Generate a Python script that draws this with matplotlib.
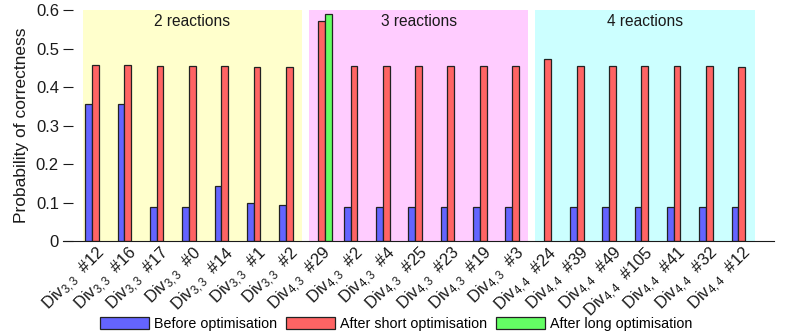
import numpy as np
import matplotlib
matplotlib.use("Agg")
import matplotlib.pyplot as plt
from matplotlib.patches import Patch

plt.rcParams['font.family'] = ['Liberation Sans', 'DejaVu Sans']
plt.rcParams['mathtext.fontset'] = 'custom'
plt.rcParams['mathtext.rm'] = 'Liberation Sans'
plt.rcParams['mathtext.it'] = 'Liberation Sans'

# ---- data ----
subscripts = ["3,3"] * 7 + ["4,3"] * 7 + ["4,4"] * 7
ids = ["#12", "#16", "#17", "#0", "#14", "#1", "#2",
       "#29", "#2", "#4", "#25", "#23", "#19", "#3",
       "#24", "#39", "#49", "#105", "#41", "#32", "#12"]
before = [0.357, 0.357, 0.089, 0.089, 0.142, 0.098, 0.094,
          np.nan, 0.089, 0.089, 0.089, 0.089, 0.089, 0.089,
          np.nan, 0.089, 0.089, 0.089, 0.089, 0.089, 0.089]
short_opt = [0.458, 0.456, 0.455, 0.454, 0.454, 0.452, 0.452,
             0.572, 0.455, 0.455, 0.455, 0.455, 0.455, 0.455,
             0.472, 0.455, 0.455, 0.455, 0.455, 0.455, 0.453]
long_opt = [np.nan] * 7 + [0.589] + [np.nan] * 13
groups = ["2 reactions", "3 reactions", "4 reactions"]
group_sizes = [7, 7, 7]
group_colors = ["#FFFFCC", "#FFCCFF", "#CCFFFF"]
series_names = ["Before optimisation", "After short optimisation", "After long optimisation"]
series_colors = ["#6464FF", "#FF6464", "#64FF64"]

labels = [f"Div$_{{{s}}}$  {i}" for s, i in zip(subscripts, ids)]
x = np.arange(len(labels))

fig = plt.figure(figsize=(7.89, 3.33), dpi=100)
ax = fig.add_axes([0.080, 0.276, 0.901, 0.694])

# group background spans
start = 0
for g, n, c in zip(groups, group_sizes, group_colors):
    x0, x1 = start - 0.4, start + n - 1 + 0.4
    ax.axvspan(x0, x1, ymin=0, ymax=1, color=c, lw=0, zorder=0)
    ax.text((x0 + x1) / 2, 0.570, g, ha='center', va='center', fontsize=11.2, color='#1a1a1a')
    start += n

w = 0.21
for vals, off, col in zip([before, short_opt, long_opt], [-w, 0, w], series_colors):
    ax.bar(x + off, vals, width=w, color=col, edgecolor='#222222', linewidth=0.9, zorder=2)

ax.set_xlim(-1, 21)
ax.set_ylim(0, 0.6)
ax.set_yticks([0, 0.1, 0.2, 0.3, 0.4, 0.5, 0.6])
ax.set_yticklabels(["0", "0.1", "0.2", "0.3", "0.4", "0.5", "0.6"])
ax.set_xticks(x)
ax.set_xticklabels(labels, rotation=45, ha='right', rotation_mode='anchor', fontsize=12)
ax.tick_params(axis='x', length=0, pad=2, colors='#1a1a1a')
ax.tick_params(axis='y', direction='in', length=7, labelsize=12, colors='#1a1a1a', pad=3)
for s in ['top', 'right', 'left']:
    ax.spines[s].set_visible(False)
ax.spines['bottom'].set_color('#1a1a1a')
ax.set_ylabel("Probability of correctness", fontsize=12.5, color='#1a1a1a', labelpad=5)

handles = [Patch(facecolor=c, edgecolor='#222222', linewidth=0.9) for c in series_colors]
fig.legend(handles, series_names, loc='center', bbox_to_anchor=(0.502, 0.027), ncol=3, frameon=False,
           fontsize=10.3, handlelength=3.4, handleheight=0.95, handletextpad=0.35,
           columnspacing=0.65, borderaxespad=0, borderpad=0)

fig.savefig("out.png", dpi=100)
